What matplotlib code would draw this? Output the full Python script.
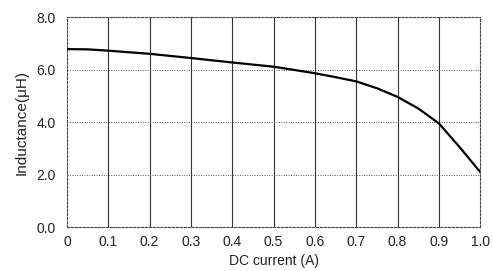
import matplotlib
matplotlib.use("Agg")
import matplotlib.pyplot as plt

# Inductance vs DC current
current = [0.0, 0.05, 0.1, 0.2, 0.3, 0.4, 0.5, 0.6, 0.65, 0.7, 0.75, 0.8, 0.85, 0.9, 0.95, 1.0]
inductance = [6.78, 6.77, 6.72, 6.60, 6.44, 6.27, 6.11, 5.86, 5.71, 5.55, 5.29, 4.96, 4.52, 3.95, 3.05, 2.10]

xticks = [0.0, 0.1, 0.2, 0.3, 0.4, 0.5, 0.6, 0.7, 0.8, 0.9, 1.0]
xticklabels = ["0", "0.1", "0.2", "0.3", "0.4", "0.5", "0.6", "0.7", "0.8", "0.9", "1.0"]
yticks = [0.0, 2.0, 4.0, 6.0, 8.0]
yticklabels = ["0.0", "2.0", "4.0", "6.0", "8.0"]

plt.rcParams["font.family"] = ["Liberation Sans", "DejaVu Sans"]

fig = plt.figure(figsize=(4.93, 2.71), dpi=100)
ax = fig.add_axes([0.136, 0.162, 0.838, 0.775])

ax.plot(current, inductance, color="black", linewidth=1.6, zorder=3)

ax.set_xlim(0, 1.0)
ax.set_ylim(0, 8.0)
ax.set_xticks(xticks)
ax.set_xticklabels(xticklabels)
ax.set_yticks(yticks)
ax.set_yticklabels(yticklabels)
ax.tick_params(length=0, labelsize=10, colors="#222222")
ax.tick_params(axis="x", pad=6)
ax.tick_params(axis="y", pad=8)

for x in xticks[1:-1]:
    ax.axvline(x, color="#333333", linewidth=0.8, zorder=1)
for y in yticks[1:-1]:
    ax.axhline(y, color="#555555", linewidth=0.7, linestyle=(0, (1, 1.5)), zorder=1)

for side in ax.spines.values():
    side.set_linestyle((0, (2, 1.5)))
    side.set_linewidth(0.8)
    side.set_color("#444444")

ax.set_xlabel("DC current (A)", fontsize=10, labelpad=3, color="#222222")
ax.set_ylabel("Inductance(\u03bcH)", fontsize=11, labelpad=6, color="#222222")

fig.savefig("out.png", dpi=100)
